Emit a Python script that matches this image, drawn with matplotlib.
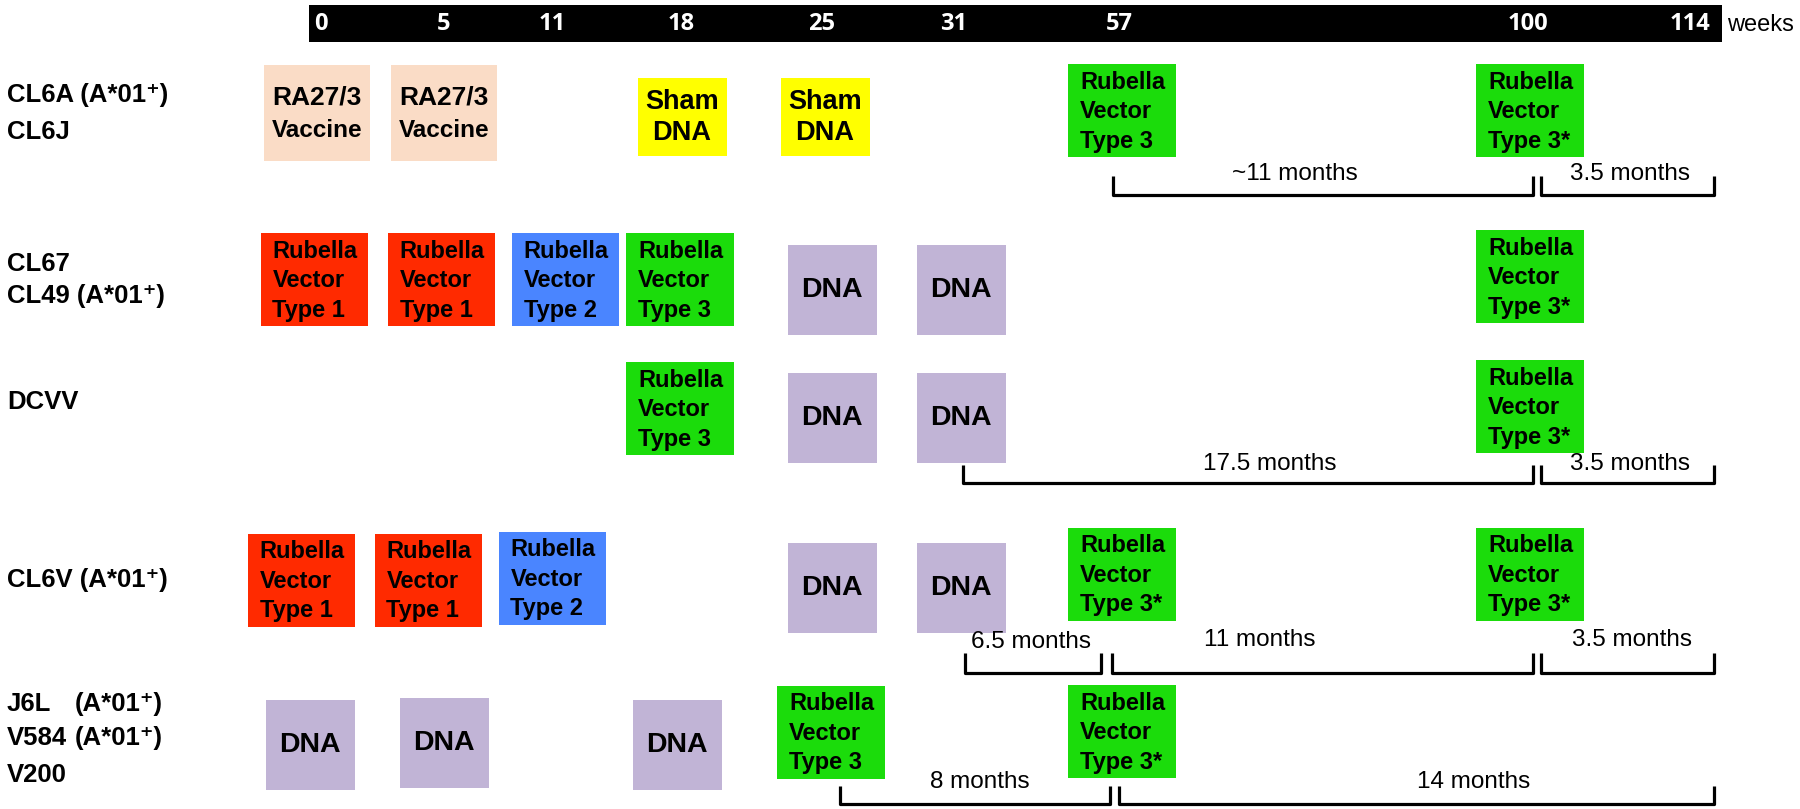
import matplotlib
matplotlib.use("Agg")
import matplotlib.pyplot as plt
from matplotlib.patches import Rectangle
from matplotlib import font_manager

# ---------------- data ----------------
weeks = [0, 5, 11, 18, 25, 31, 57, 100, 114]
week_unit = "weeks"

group_labels = [
    ["CL6A (A*01\u207a)", "CL6J"],
    ["CL67", "CL49 (A*01\u207a)"],
    ["DCVV"],
    ["CL6V (A*01\u207a)"],
    ["J6L", "V584", "V200"],
]
group_hla = [[], [], [], [], ["(A*01\u207a)", "(A*01\u207a)", ""]]

schedules = [
    [(0, "RA"), (5, "RA"), (18, "SHAM"), (25, "SHAM"), (57, "RV3"), (100, "RV3s")],
    [(0, "RV1"), (5, "RV1"), (11, "RV2"), (18, "RV3"), (25, "DNA"), (31, "DNA"), (100, "RV3s")],
    [(18, "RV3"), (25, "DNA"), (31, "DNA"), (100, "RV3s")],
    [(0, "RV1"), (5, "RV1"), (11, "RV2"), (25, "DNA"), (31, "DNA"), (57, "RV3s"), (100, "RV3s")],
    [(0, "DNA"), (5, "DNA"), (18, "DNA"), (25, "RV3"), (57, "RV3s")],
]

intervals = [
    [(57, 100, "~11 months"), (100, 114, "3.5 months")],
    [],
    [(31, 100, "17.5 months"), (100, 114, "3.5 months")],
    [(31, 57, "6.5 months"), (57, 100, "11 months"), (100, 114, "3.5 months")],
    [(25, 57, "8 months"), (57, 114, "14 months")],
]

treat_text = {
    "RA": ["RA27/3", "Vaccine"],
    "SHAM": ["Sham", "DNA"],
    "RV1": ["Rubella", "Vector", "Type 1"],
    "RV2": ["Rubella", "Vector", "Type 2"],
    "RV3": ["Rubella", "Vector", "Type 3"],
    "RV3s": ["Rubella", "Vector", "Type 3*"],
    "DNA": ["DNA"],
}

# ---------------- styles / layout ----------------
treat_color = {
    "RA": "#FADCC6", "SHAM": "#FFFF00", "RV1": "#FF2A00", "RV2": "#4A85FF",
    "RV3": "#1BDC0B", "RV3s": "#1BDC0B", "DNA": "#C1B4D6",
}
treat_size = {  # width, height in px
    "RA": (106, 96), "SHAM": (89, 78), "RV1": (107, 93), "RV2": (107, 93),
    "RV3": (108, 93), "RV3s": (108, 93), "DNA": (89, 90),
}

TICK_X = [321, 444, 552, 681, 822, 954, 1119, 1528, 1690]
BAR = (309, 5, 1413, 37)

box_dx = [
    [-4, 0, 1, 3, 3, 2],
    [-7, -3, 13, -1, 10, 7, 2],
    [-1, 10, 7, 2],
    [-20, -16, 0, 10, 7, 3, 2],
    [-11, 0, -4, 9, 3],
]
box_top = [
    [65, 65, 78, 78, 64, 64],
    [233, 233, 233, 233, 245, 245, 230],
    [362, 373, 373, 360],
    [534, 534, 532, 543, 543, 528, 528],
    [700, 698, 700, 686, 685],
]
label_y = [[95, 132], [264, 296], [402], [580], [704, 738, 775]]

# bracket layout: x0, x1, ytop, ybot, text_x, text_y
bracket_layout = [
    [(1113, 1533, 176, 195, 1295, 174), (1541, 1714, 176, 195, 1630, 174)],
    [],
    [(963, 1533, 465, 483, 1270, 464), (1541, 1714, 465, 483, 1630, 464)],
    [(965, 1101, 653, 673, 1031, 642), (1112, 1533, 653, 673, 1260, 640),
     (1541, 1714, 653, 673, 1632, 640)],
    [(840, 1110, 786, 804, 980, 782), (1119, 1714, 786, 804, 1474, 782)],
]

def has_font(name):
    try:
        font_manager.findfont(name, fallback_to_default=False)
        return True
    except Exception:
        return False

BASE = ["Liberation Sans", "DejaVu Sans"]
TICKF = (["Open Sans"] if has_font("Open Sans") else []) + BASE
plt.rcParams["font.family"] = BASE

W, H = 1800, 809
fig = plt.figure(figsize=(18, 8.09), dpi=100)
ax = fig.add_axes([0, 0, 1, 1])
ax.set_xlim(0, W)
ax.set_ylim(H, 0)
ax.axis("off")

# timeline bar
ax.add_patch(Rectangle((BAR[0], BAR[1]), BAR[2], BAR[3], color="black", lw=0))
for wk, tx in zip(weeks, TICK_X):
    ax.text(tx, BAR[1] + BAR[3] / 2, str(wk), color="white", fontsize=17,
            fontweight="bold", ha="center", va="center", family=TICKF)
ax.text(BAR[0] + BAR[2] + 5, BAR[1] + BAR[3] / 2 + 1, week_unit, fontsize=17,
        ha="left", va="center", color="black")

# group labels
for gi, labs in enumerate(group_labels):
    for li, lab in enumerate(labs):
        ax.text(7, label_y[gi][li], lab, fontsize=18.5, fontweight="bold",
                ha="left", va="center")
        if group_hla[gi] and group_hla[gi][li]:
            ax.text(75, label_y[gi][li], group_hla[gi][li], fontsize=18.5,
                    fontweight="bold", ha="left", va="center")

# boxes
for gi, sched in enumerate(schedules):
    for bi, (wk, tr) in enumerate(sched):
        w, h = treat_size[tr]
        xc = TICK_X[weeks.index(wk)] + box_dx[gi][bi]
        y0 = box_top[gi][bi]
        ax.add_patch(Rectangle((xc - w / 2, y0), w, h, facecolor=treat_color[tr],
                               edgecolor="none"))
        lines = treat_text[tr]
        yc = y0 + h / 2
        if tr.startswith("RV"):
            sp = 29.5
            for k, t in enumerate(lines):
                ax.text(xc - w / 2 + 12, yc + 1 + (k - 1) * sp, t, fontsize=17,
                        fontweight="bold", ha="left", va="center")
        elif tr == "DNA":
            ax.text(xc, yc, lines[0], fontsize=20.5, fontweight="bold",
                    ha="center", va="center")
        elif tr == "RA":
            ax.text(xc, yc - 16, lines[0], fontsize=19, fontweight="bold",
                    ha="center", va="center")
            ax.text(xc, yc + 17, lines[1], fontsize=17.5, fontweight="bold",
                    ha="center", va="center")
        else:
            for k, t in enumerate(lines):
                ax.text(xc, yc + (k - 0.5) * 31, t, fontsize=19.5,
                        fontweight="bold", ha="center", va="center")

# interval brackets
for gi, ivs in enumerate(intervals):
    for (w0, w1, lab), (x0, x1, yt, yb, tx, ty) in zip(ivs, bracket_layout[gi]):
        ax.plot([x0, x0, x1, x1], [yt, yb, yb, yt], color="black", lw=2.3,
                solid_joinstyle="round", solid_capstyle="butt")
        ax.text(tx, ty, lab, fontsize=17.5, ha="center", va="center")

fig.savefig("out.png", dpi=100)
